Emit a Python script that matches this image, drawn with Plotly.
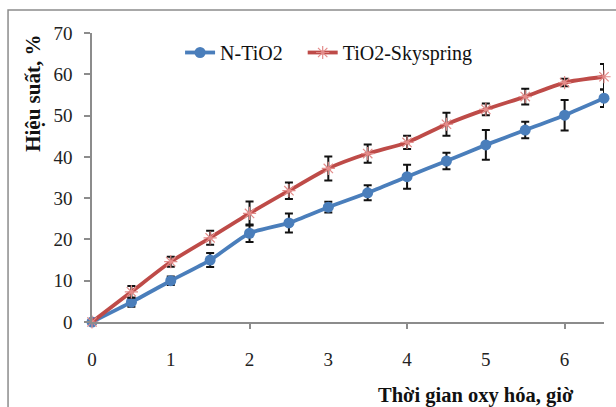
import plotly.graph_objects as go

hours = [0, 0.5, 1, 1.5, 2, 2.5, 3, 3.5, 4, 4.5, 5, 5.5, 6, 6.5]
n_tio2 = [0, 4.8, 10.0, 15.0, 21.5, 24.0, 27.8, 31.3, 35.2, 39.0, 42.9, 46.5, 50.1, 54.2]
n_tio2_err = [0, 1.1, 1.05, 1.7, 2.1, 2.3, 1.3, 1.8, 2.9, 2.0, 3.6, 2.0, 3.7, 2.1]
sky = [0, 7.3, 14.6, 20.4, 26.3, 31.8, 37.2, 40.8, 43.5, 47.9, 51.5, 54.6, 58.0, 59.4]
sky_err = [0, 1.4, 1.2, 1.7, 2.9, 2.0, 2.9, 2.2, 1.6, 2.8, 1.4, 1.9, 0.9, 3.1]
x_ticks = [0, 1, 2, 3, 4, 5, 6]
x_marks = [2, 4, 6]
y_ticks = [0, 10, 20, 30, 40, 50, 60, 70]

SERIF = "Liberation Serif"

fig = go.Figure()
fig.add_trace(go.Scatter(
    x=hours, y=n_tio2, name="N-TiO2\u00a0\u00a0\u00a0", mode="lines+markers",
    line=dict(color="#4A7EBB", width=3.8, shape="spline", smoothing=0.6),
    marker=dict(symbol="circle", size=11, color="#4A7EBB"),
    error_y=dict(type="data", array=n_tio2_err, color="#111", thickness=2, width=4),
    cliponaxis=False,
))
fig.add_trace(go.Scatter(
    x=hours, y=sky, name="TiO2-Skyspring", mode="lines+markers",
    line=dict(color="#BE4B48", width=3.8, shape="spline", smoothing=0.6),
    marker=dict(symbol="asterisk-open", size=11, color="#E38C8A",
                line=dict(color="#E38C8A", width=1.2)),
    error_y=dict(type="data", array=sky_err, color="#111", thickness=2, width=4),
    cliponaxis=False,
))
# overlay axis for tick marks at even hours only
fig.add_trace(go.Scatter(x=[None], y=[None], xaxis="x2", showlegend=False,
                         hoverinfo="skip"))

fig.update_layout(
    width=616, height=407,
    margin=dict(l=92, r=12, t=33, b=85),
    paper_bgcolor="white", plot_bgcolor="white",
    font=dict(family=SERIF, color="#222"),
    showlegend=True,
    legend=dict(orientation="h", x=0.172, y=1.0, xanchor="left", yanchor="top",
                font=dict(family=SERIF, size=20, color="#111"),
                bgcolor="rgba(0,0,0,0)", itemwidth=30, tracegroupgap=0),
    xaxis=dict(range=[0, 6.5], tickvals=x_ticks, ticktext=[str(v) for v in x_ticks],
               ticks="", showgrid=False, zeroline=False,
               showline=True, linecolor="#8C8C8C", linewidth=1.5,
               tickfont=dict(family=SERIF, size=19, color="#222"),
               ticklabelstandoff=19),
    xaxis2=dict(range=[0, 6.5], overlaying="x", anchor="y", side="bottom",
                tickvals=x_marks, ticks="outside", ticklen=6, tickwidth=1.5,
                tickcolor="#8C8C8C", showticklabels=False, showgrid=False,
                zeroline=False, showline=False),
    yaxis=dict(range=[0, 70], tickvals=y_ticks, ticks="outside", ticklen=6,
               tickwidth=1.5, tickcolor="#8C8C8C", showgrid=False, zeroline=False,
               showline=True, linecolor="#8C8C8C", linewidth=1.5,
               tickfont=dict(family=SERIF, size=19, color="#222"),
               ticklabelstandoff=8),
    shapes=[dict(type="rect", xref="paper", yref="paper",
                 x0=-0.164, x1=1.2, y0=-0.6, y1=1.0796,
                 line=dict(color="#8C8C8C", width=1.5), fillcolor="rgba(0,0,0,0)",
                 layer="below")],
    annotations=[
        dict(text="<b>Hiệu suất, %</b>", textangle=-90, xref="paper", yref="paper",
             x=-0.115, y=0.79, showarrow=False, xanchor="center", yanchor="middle",
             font=dict(family=SERIF, size=21, color="#111")),
        dict(text="<b>Thời gian oxy hóa, giờ</b>", xref="paper", yref="paper",
             x=0.75, y=-0.2526, showarrow=False, xanchor="center", yanchor="middle",
             font=dict(family=SERIF, size=20.5, color="#111")),
    ],
)

fig.write_html("out.html")
